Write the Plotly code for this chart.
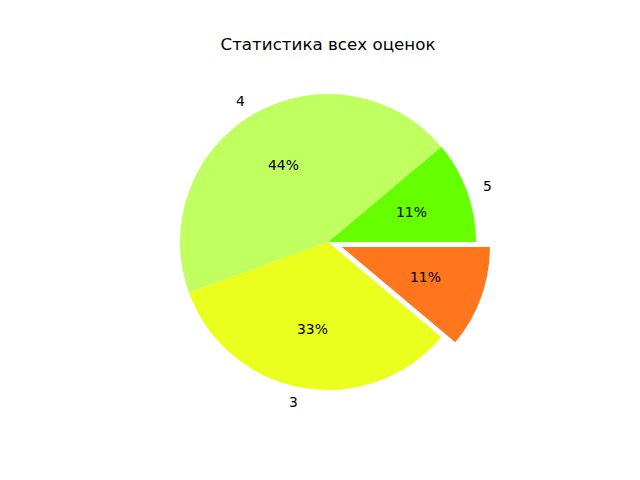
import math
import plotly.graph_objects as go

labels = ["5", "4", "3", "2"]
values = [1, 4, 3, 1]
colors = ["#66FF00", "#C0FF60", "#EBFF1F", "#FF761C"]
explode = [0, 0, 0, 0.1]
title_text = "Статистика всех оценок"

W, H = 640, 480
cx, cy = 328, 238  # pie centre in px (from bottom)
R = 148            # pie radius in px
half = R * (1 + max(explode))
dom_x = [(cx - half) / W, (cx + half) / W]
dom_y = [(cy - half) / H, (cy + half) / H]
rng = 1 + max(explode)
total = sum(values)

fig = go.Figure()
fig.add_trace(go.Pie(
    labels=labels, values=values, sort=False, direction="counterclockwise",
    rotation=90 - 360 * values[0] / total, pull=explode, textinfo="none",
    hoverinfo="label+percent",
    marker=dict(colors=colors, line=dict(width=0)), showlegend=False,
    domain=dict(x=dom_x, y=dom_y),
))

cum = 0
font = dict(family="DejaVu Sans", size=13.9, color="black")
for lab, v, ex in zip(labels, values, explode):
    mid = math.radians(360 * (cum + v / 2) / total)
    cum += v
    ox, oy = ex * math.cos(mid), ex * math.sin(mid)
    lx, ly = ox + 1.1 * math.cos(mid), oy + 1.1 * math.sin(mid)
    fig.add_annotation(x=lx, y=ly, xref="x", yref="y", text=lab, showarrow=False,
                       xanchor="left" if lx > 0 else "right", yanchor="middle", font=font)
    px, py = ox + 0.6 * math.cos(mid), oy + 0.6 * math.sin(mid)
    fig.add_annotation(x=px, y=py, xref="x", yref="y", text=f"{round(100 * v / total):.0f}%",
                       showarrow=False, xanchor="center", yanchor="middle", font=font)

axis = dict(range=[-rng, rng], visible=False, showgrid=False, zeroline=False, fixedrange=True)
fig.update_layout(
    width=W, height=H, margin=dict(l=0, r=0, t=0, b=0),
    paper_bgcolor="white", plot_bgcolor="rgba(0,0,0,0)",
    xaxis=dict(domain=dom_x, **axis), yaxis=dict(domain=dom_y, **axis),
    title=dict(text=title_text, x=cx / W, xanchor="center", y=1 - 44 / H, yanchor="middle",
               yref="container", font=dict(family="DejaVu Sans", size=16.7, color="black")),
)
fig.write_html("out.html", config={"displayModeBar": False},
               post_script="document.body.style.margin='0';")
